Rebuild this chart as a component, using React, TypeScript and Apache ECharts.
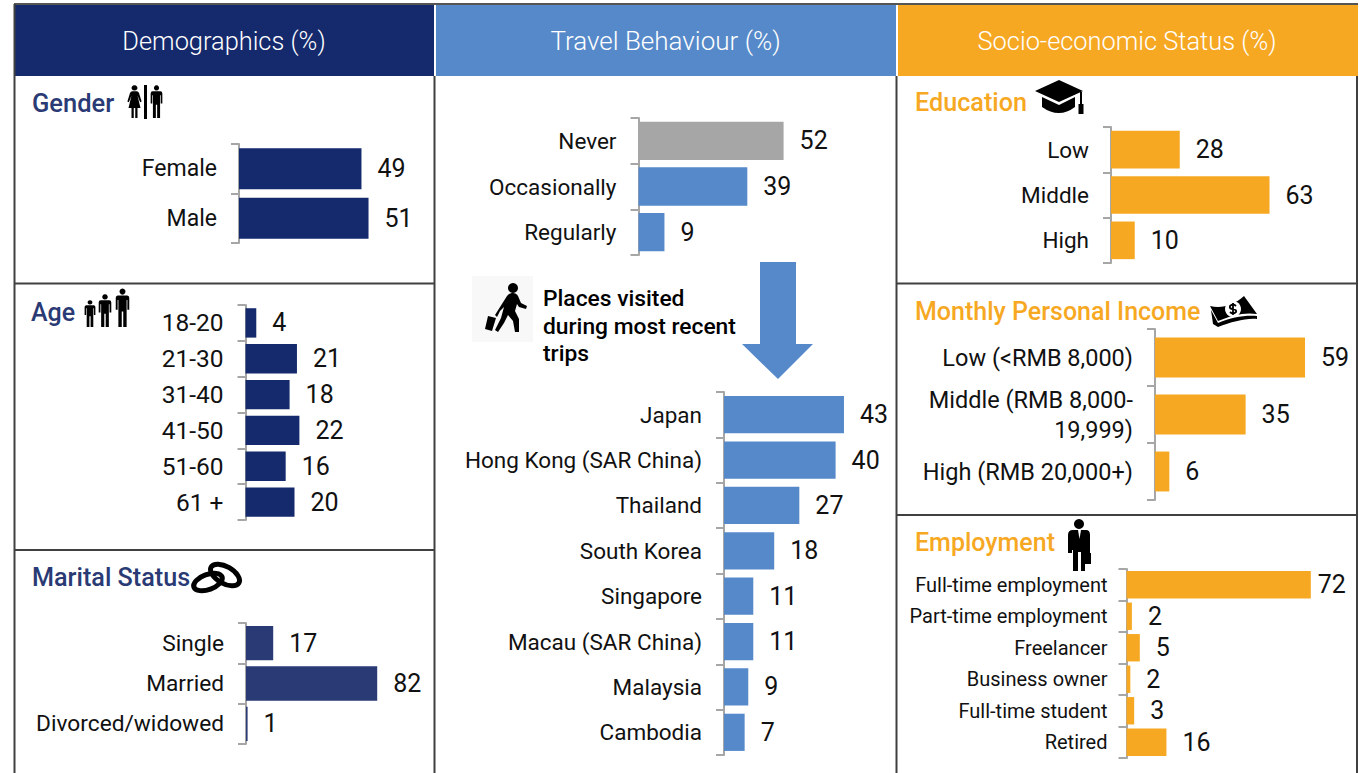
import React, { useEffect, useRef } from "react";
import * as echarts from "echarts";

const genderCats = ["Female", "Male"];
const genderVals = [48.6, 51.4];
const ageCats = ["18-20", "21-30", "31-40", "41-50", "51-60", "61 +"];
const ageVals = [4.4, 21, 18, 22, 16.4, 20];
const maritalCats = ["Single", "Married", "Divorced/widowed"];
const maritalVals = [17, 82, 1];
const freqCats = ["Never", "Occasionally", "Regularly"];
const freqVals = [52, 39, 9.3];
const placeCats = ["Japan", "Hong Kong (SAR China)", "Thailand", "South Korea", "Singapore", "Macau (SAR China)", "Malaysia", "Cambodia"];
const placeVals = [43, 40, 27, 18, 10.5, 10.5, 8.7, 7.4];
const eduCats = ["Low", "Middle", "High"];
const eduVals = [27.5, 63.4, 9.5];
const incomeCats = ["Low (<RMB 8,000)", "Middle (RMB 8,000-\n19,999)", "High (RMB 20,000+)"];
const incomeVals = [58.6, 35.4, 5.6];
const empCats = ["Full-time employment", "Part-time employment", "Freelancer", "Business owner", "Full-time student", "Retired"];
const empVals = [72, 2.1, 5.2, 1.5, 3, 15.6];

const NAVY = "#152a6c";
const NAVY2 = "#2a3a74";
const BLUE = "#5589c9";
const ORANGE = "#f7a823";
const GREY = "#a6a6a6";
const FONT = "Roboto";

const MAN = "M20 1a8 8 0 1 1-.01 0ZM8 19H32Q38 19 38 26V56H33V31H31V100H22V60H18V100H9V31H7V56H2V26Q2 19 8 19Z";
const WOMAN = "M20 1a8 8 0 1 1-.01 0ZM14 19H26Q30 19 32 24L39 50 35 52 28 32 36 70H28V100H22V70H18V100H12V70H4L12 32 5 52 1 50 8 24Q10 19 14 19Z";
const TRAVELLER = "M513 283a5 5 0 1 1-.01 0ZM507 296C510 292 516 292 518 296L521 303 527 306 526 309 519 307 517 304 515 311 519 319 519 332 515 332 513 321 508 315 504 323 498 332 495 330 501 318 504 307 500 311 497 317 495 315 ZM488 316 496 318 492 331 485 329Z";
const CAP = "M1059 80 1083 91 1059 102 1035 91ZM1042 97 1059 105 1075 97V107Q1059 119 1042 107ZM1080 92H1082V104H1083.5V114H1078.5V104H1080Z";
const MONEY = "M1210 306C1222 309 1234 305 1244 296L1257 314C1245 312 1232 315 1218 321ZM1211 310L1218 323C1232 317 1245 315 1257 316V319C1245 318 1232 322 1218 327L1213 324Z";
const MONEY2 = "M1236 306Q1233 303 1230 306Q1229 309 1233 309Q1237 310 1236 312Q1233 315 1230 312M1233 303V315";
const SUIT = "M1079 519a5 5 0 1 1-.01 0ZM1073 530H1086Q1090 530 1090 535V553H1091V564H1085V571H1081V552H1078V571H1073V550H1072V553H1068V535Q1068 530 1073 530Z";

echarts.graphic.registerShape("man", echarts.graphic.extendPath(MAN, {}));
echarts.graphic.registerShape("woman", echarts.graphic.extendPath(WOMAN, {}));
echarts.graphic.registerShape("traveller", echarts.graphic.extendPath(TRAVELLER, {}));
echarts.graphic.registerShape("gradcap", echarts.graphic.extendPath(CAP, {}));
echarts.graphic.registerShape("money", echarts.graphic.extendPath(MONEY, {}));
echarts.graphic.registerShape("moneyS", echarts.graphic.extendPath(MONEY2, {}));
echarts.graphic.registerShape("suit", echarts.graphic.extendPath(SUIT, {}));

type Panel = {
  cats: string[]; vals: number[]; color: string | string[];
  x: number; top: number; bottom: number; scale: number; gap: string;
  labelSize?: number; valueSize?: number; margin?: number; distance?: number; lift?: number;
  distances?: Record<number, number>;
};

const panels: Panel[] = [
  { cats: genderCats, vals: genderVals, color: NAVY, x: 239, top: 144, bottom: 243, scale: 2.52, gap: "17%", labelSize: 23, lift: 2 },
  { cats: ageCats, vals: ageVals, color: NAVY, x: 245.5, top: 305, bottom: 520, scale: 2.45, gap: "18%", labelSize: 24.5, lift: 2 },
  { cats: maritalCats, vals: maritalVals, color: NAVY2, x: 246, top: 623, bottom: 744, scale: 1.6, gap: "15%", labelSize: 22.7, lift: 2 },
  { cats: freqCats, vals: freqVals, color: [GREY, BLUE, BLUE], x: 638.5, top: 118, bottom: 255, scale: 2.79, gap: "16%", labelSize: 22.5, lift: 2 },
  { cats: placeCats, vals: placeVals, color: BLUE, x: 724, top: 392, bottom: 755, scale: 2.79, gap: "18%", labelSize: 22.5, lift: 2 },
  { cats: eduCats, vals: eduVals, color: ORANGE, x: 1111, top: 127, bottom: 263, scale: 2.5, gap: "17%", labelSize: 22.5 },
  { cats: incomeCats, vals: incomeVals, color: ORANGE, x: 1155, top: 329, bottom: 500, scale: 2.56, gap: "30%", labelSize: 23.5 },
  { cats: empCats, vals: empVals, color: ORANGE, x: 1126.5, top: 569, bottom: 758, scale: 2.56, gap: "13%", labelSize: 20, margin: 19, lift: 2, distances: { 0: 7 } },
];

function hLine(x1: number, x2: number, y: number, lw = 2, c = "#404040") {
  return { type: "line", silent: true, shape: { x1, y1: y, x2, y2: y }, style: { stroke: c, lineWidth: lw } };
}
function vLine(x: number, y1: number, y2: number, lw = 2, c = "#404040") {
  return { type: "line", silent: true, shape: { x1: x, y1, x2: x, y2 }, style: { stroke: c, lineWidth: lw } };
}
function rect(x: number, y: number, width: number, height: number, fill: string) {
  return { type: "rect", silent: true, shape: { x, y, width, height }, style: { fill } };
}
function txt(text: string, x: number, y: number, fill: string, fontSize: number, fontWeight: string | number = 400, align = "left") {
  return {
    type: "text", silent: true, x, y,
    style: { text, fill, fontSize, fontWeight, fontFamily: FONT, align, textAlign: align, verticalAlign: "middle", textVerticalAlign: "middle" },
  };
}
function icon(type: string, x: number, y: number, w: number, h: number, bw = 40) {
  return { type, silent: true, x, y, scaleX: w / bw, scaleY: h / 100, style: { fill: "#000" } };
}
function abs(type: string, fill = "#000") {
  return { type, silent: true, x: 0, y: 0, style: { fill } };
}
function ring(cx: number, cy: number, rx: number, ry: number, deg: number) {
  return {
    type: "ellipse", silent: true, x: cx, y: cy, rotation: (deg * Math.PI) / 180,
    shape: { cx: 0, cy: 0, rx, ry }, style: { fill: "none", stroke: "#000", lineWidth: 5 },
  };
}

function buildOption() {
  const grids: any[] = [];
  const xAxes: any[] = [];
  const yAxes: any[] = [];
  const series: any[] = [];
  panels.forEach((p, i) => {
    const maxV = Math.max(...p.vals) * 1.02;
    grids.push({ left: p.x, top: p.top, width: maxV * p.scale, height: p.bottom - p.top, containLabel: false });
    xAxes.push({ type: "value", gridIndex: i, min: 0, max: maxV, show: false });
    yAxes.push({
      type: "category", gridIndex: i, inverse: true, data: p.cats,
      axisLine: { show: true, lineStyle: { color: GREY, width: 2 } },
      axisTick: { show: true, length: 8, lineStyle: { color: GREY, width: 2 } },
      axisLabel: {
        color: "#111", fontFamily: FONT, fontSize: p.labelSize ?? 23, margin: p.margin ?? 22,
        lineHeight: p.labelSize === 20 ? 24 : 30, align: "right", padding: [0, 0, p.lift ?? 0, 0],
      },
      splitLine: { show: false },
    });
    series.push({
      type: "bar", xAxisIndex: i, yAxisIndex: i, barCategoryGap: p.gap,
      data: p.vals.map((v, k) => ({
        value: v,
        itemStyle: { color: Array.isArray(p.color) ? p.color[k] : p.color },
        label: p.distances && p.distances[k] !== undefined ? { distance: p.distances[k] } : undefined,
      })),
      label: {
        show: true, position: "right", distance: p.distance ?? 16, color: "#111",
        fontFamily: FONT, fontSize: p.valueSize ?? 25,
        formatter: (d: any) => String(Math.round(d.value)),
      },
    });
  });

  const graphic: any[] = [
    rect(15, 5, 419, 71, NAVY),
    rect(436, 5, 460, 71, BLUE),
    rect(898, 5, 460, 71, ORANGE),
    hLine(14, 1358, 4, 2, "#555"),
    vLine(14.5, 4, 773),
    vLine(434.5, 76, 773),
    vLine(896.5, 76, 773),
    vLine(1357, 76, 773),
    hLine(14, 434, 283.5),
    hLine(14, 434, 550),
    hLine(897, 1357, 283.5),
    hLine(897, 1357, 515),

    txt("Demographics (%)", 224, 41, "#fff", 25.4, 300, "center"),
    txt("Travel Behaviour (%)", 665.5, 41, "#fff", 26, 300, "center"),
    txt("Socio-economic Status (%)", 1127, 41, "#fff", 25.4, 300, "center"),

    txt("Gender", 32, 103, NAVY2, 25.5, 500),
    txt("Age", 31, 312, NAVY2, 25, 500),
    txt("Marital Status", 32, 577, NAVY2, 25.2, 500),
    txt("Education", 915, 102, ORANGE, 25.2, 500),
    txt("Monthly Personal Income", 915, 311, ORANGE, 25, 500),
    txt("Employment", 915, 542, ORANGE, 25, 500),

    txt("Places visited", 543, 298, "#000", 22.8, 500),
    txt("during most recent", 543, 326, "#000", 22.8, 500),
    txt("trips", 543, 353, "#000", 22.8, 500),

    rect(472, 276, 61, 66, "#f8f8f8"),
    abs("traveller"),
    {
      type: "polygon", silent: true,
      shape: { points: [[760, 262], [796, 262], [796, 344], [813, 344], [778, 379], [742, 344], [760, 344]] },
      style: { fill: BLUE },
    },

    icon("woman", 127, 85, 15, 33),
    rect(144, 85, 3, 34, "#000"),
    icon("man", 150, 85, 13, 33),
    icon("man", 84, 300, 12, 27),
    icon("man", 98, 294, 14, 33),
    icon("man", 115, 288, 15, 39),

    ring(208, 582, 15, 7.5, 20),
    ring(225, 575, 16, 8.5, -30),

    abs("gradcap"),
    abs("money"),
    { type: "circle", silent: true, shape: { cx: 1233, cy: 309, r: 8 }, style: { fill: "#fff" } },
    { type: "moneyS", silent: true, x: 0, y: 0, style: { fill: "none", stroke: "#000", lineWidth: 1.8 } },
    abs("suit"),
    { type: "polygon", silent: true, shape: { points: [[1078, 530], [1081, 530], [1079.5, 539]] }, style: { fill: "#fff" } },
  ];

  return { animation: false, backgroundColor: "#fff", grid: grids, xAxis: xAxes, yAxis: yAxes, series, graphic };
}

export default function App() {
  const ref = useRef<HTMLDivElement>(null);
  useEffect(() => {
    document.body.style.margin = "0";
    const chart = echarts.init(ref.current!, undefined, { renderer: "svg" });
    chart.setOption(buildOption());
    return () => chart.dispose();
  }, []);
  return <div ref={ref} style={{ width: 1359, height: 773, overflow: "hidden" }} />;
}
